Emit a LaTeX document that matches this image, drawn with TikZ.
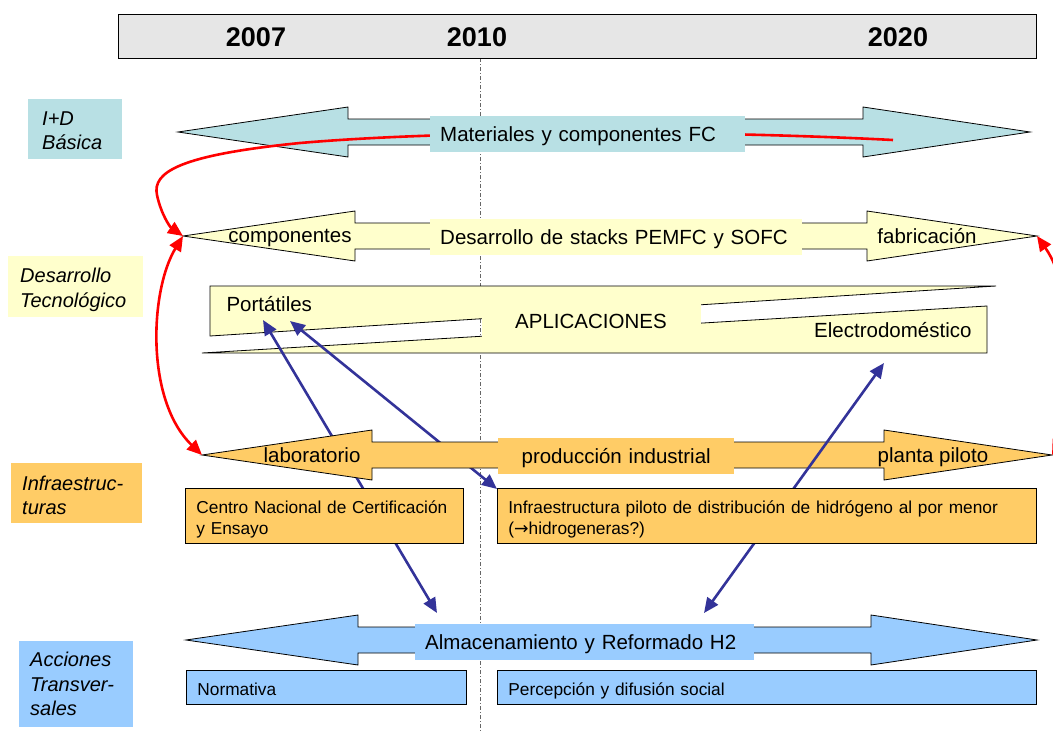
\documentclass[tikz,border=0pt]{standalone}
\usepackage{fontspec}
\setmainfont{Liberation Sans}
\newfontfamily\arrowfont{DejaVu Sans}
\usetikzlibrary{arrows.meta}
\hyphenpenalty=10000

\definecolor{headgray}{HTML}{E6E6E6}
\definecolor{idteal}{HTML}{B8E0E4}
\definecolor{devyellow}{HTML}{FFFFCC}
\definecolor{infraorange}{HTML}{FFCC66}
\definecolor{transblue}{HTML}{99CCFF}
\definecolor{linkblue}{HTML}{333399}

\tikzset{
  yearlbl/.style={font=\fontsize{27}{30}\selectfont\bfseries},
  rowlabel/.style={anchor=north west, align=left, inner ysep=0pt, font=\fontsize{20}{24.5}\selectfont\itshape},
  onarrow/.style={anchor=west, inner xsep=10pt, inner ysep=0pt, minimum height=36pt, text depth=0pt, font=\fontsize{20.5}{24}\selectfont},
  headlbl/.style={text depth=0pt, font=\fontsize{20.5}{24}\selectfont},
  infobox/.style={draw=black, line width=0.8pt, anchor=north west, align=left, inner xsep=11pt, inner ysep=0pt, font=\fontsize{17.3}{21}\selectfont},
  linkarrow/.style={draw=linkblue, line width=2.6pt, {Triangle[length=15pt,width=13pt]}-{Triangle[length=15pt,width=13pt]}},
  redlink/.style={draw=red, line width=2.6pt},
}

\begin{document}
\begin{tikzpicture}[x=1pt, y=-1pt]
    \clip (0,0) rectangle (1053,731);

    % Time line
    \draw[gray!80!black, line width=0.8pt, dash pattern=on 4pt off 2pt on 1pt off 2pt] (480,58) -- (480,731);
    \node[draw=black, fill=headgray, line width=0.8pt, anchor=north west, minimum width=918pt, minimum height=44pt, inner sep=0pt] (header) at (118,14) {};
    \node[yearlbl] (y2007) at (256,37) {2007};
    \node[yearlbl] (y2010) at (477,37) {2010};
    \node[yearlbl] (y2020) at (898,37) {2020};

    % Row labels
    \node[rowlabel, fill=idteal, inner xsep=14pt, text width=66pt, text height=16.5pt, minimum height=60pt] (idb) at (28,99) {I+D\\Básica};
    \node[rowlabel, fill=devyellow, inner xsep=12pt, text width=111pt, text height=20.5pt, minimum height=61pt] (destec) at (8,256) {Desarrollo\\Tecnológico};
    \node[rowlabel, fill=infraorange, inner xsep=11pt, text width=109pt, text height=18.5pt, minimum height=60pt] (infr) at (11,463) {Infraestruc-\\turas};
    \node[rowlabel, fill=transblue, inner xsep=11pt, text width=92pt, minimum height=86pt] (acctr) at (19,641) {Acciones\\Transver-\\sales};

    % Applications band
    \filldraw[fill=devyellow, line width=0.8pt] (210,286) -- (996,286) -- (210,336) -- cycle;
    \filldraw[fill=devyellow, line width=0.8pt] (202,353) -- (987,306) -- (987,353) -- cycle;
    \node[fill=devyellow, minimum width=219pt, minimum height=40pt, inner sep=0pt, headlbl] (aplic) at (591,321) {APLICACIONES};
    \node[headlbl, anchor=west] (portat) at (223,304) {Portátiles};
    \node[headlbl, anchor=east] (electro) at (975,330) {Electrodoméstico};

    % Links from portable applications
    \coordinate (portA) at (263,320);
    \coordinate (almA) at (437,613);
    \coordinate (portB) at (290,321);
    \coordinate (infB) at (497,489);
    \draw[linkarrow] (portA) -- (almA);
    \draw[linkarrow] (portB) -- (infB);

    % Double arrows (one per row)
    \foreach \n/\xl/\xa/\xb/\xr/\y/\col in {mat/178/348/863/1030/132/idteal, dev/183/355/867/1037/236/devyellow,
                                           inf/202/372/884/1052/455/infraorange, tra/186/358/871/1037/640/transblue}{
        \filldraw[fill=\col, draw=black, line width=0.8pt]
            (\xl,\y) -- (\xa,\y-25) -- (\xa,\y-13) -- (\xb,\y-13) -- (\xb,\y-25) -- (\xr,\y)
            -- (\xb,\y+25) -- (\xb,\y+13) -- (\xa,\y+13) -- (\xa,\y+25) -- cycle;
        \coordinate (\n-L) at (\xl,\y);
        \coordinate (\n-R) at (\xr,\y);
    }

    % Red link from basic research to stacks
    \coordinate (matEnd) at (893,140);
    \draw[redlink, -{Triangle[length=15pt,width=13pt]}] (matEnd) .. controls (700,130) and (450,130) .. (300,143)
        .. controls (180,155) and (152,172) .. (157,195) .. controls (161,214) and (170,227) .. (dev-L);

    % Texts on the arrows
    \node[onarrow, fill=idteal, text width=295pt, align=left] (matFC) at (430,134) {Materiales y componentes FC};
    \node[onarrow, fill=devyellow, text width=352pt, align=left] (stacks) at (430,237) {Desarrollo de stacks PEMFC y SOFC};
    \node[headlbl] (compo) at (290,236) {componentes};
    \node[headlbl] (fabric) at (927,236) {fabricación};
    \node[onarrow, fill=infraorange, text width=216pt, align=center] (prodind) at (498,456) {producción industrial};
    \node[headlbl] (labor) at (312,455) {laboratorio};
    \node[headlbl] (planta) at (933,455) {planta piloto};
    \node[onarrow, fill=transblue, text width=319pt, align=left] (almac) at (415,642) {Almacenamiento y Reformado H2};

    % Link from household appliances
    \coordinate (elecC) at (884,363);
    \coordinate (almC) at (704,613);
    \draw[linkarrow] (elecC) -- (almC);

    % Boxes below the arrows
    \node[infobox, fill=infraorange, text width=256pt, text height=19.5pt, minimum height=55pt] (centro) at (185,488) {Centro Nacional de Certificación\\y Ensayo};
    \node[infobox, fill=infraorange, text width=517pt, text height=19.5pt, minimum height=55pt] (infra) at (497,488) {Infraestructura piloto de distribución de hidrógeno al por menor\\({\arrowfont →}hidrogeneras?)};
    \node[infobox, fill=transblue, text width=258pt, text height=16pt, text depth=0pt, minimum height=34pt] (normat) at (186,670) {Normativa};
    \node[infobox, fill=transblue, text width=517pt, text height=16pt, text depth=0pt, minimum height=34pt] (percep) at (497,670) {Percepción y difusión social};

    % Red links between stacks and infrastructure
    \draw[redlink, {Triangle[length=15pt,width=13pt]}-{Triangle[length=15pt,width=13pt]}] (dev-L) .. controls (150,290) and (145,400) .. (inf-L);
    \draw[redlink, {Triangle[length=15pt,width=13pt]}-{Triangle[length=15pt,width=13pt]}] (dev-R) .. controls (1075,290) and (1080,400) .. (inf-R);

\end{tikzpicture}
\end{document}
